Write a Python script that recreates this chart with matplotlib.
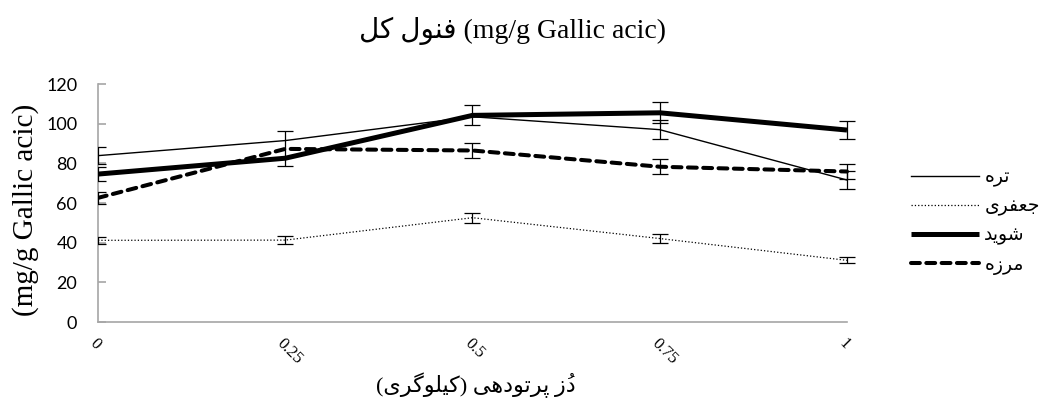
# Total phenol vs irradiation dose, four herbs, with error bars
import matplotlib
matplotlib.use('Agg')
import matplotlib.pyplot as plt


# data
dose = [0, 0.25, 0.5, 0.75, 1]
dose_labels = ['0', '0.25', '0.5', '0.75', '1']

names = ['تره', 'جعفری', 'شوید', 'مرزه']
tareh = [83.9, 91.5, 103.5, 97.0, 71.6]
tareh_err = [4.2, 0, 0, 4.7, 4.4]
jafari = [41.2, 41.3, 52.6, 42.1, 31.1]
jafari_err = [1.8, 2.0, 2.5, 2.1, 1.5]
shevid = [74.6, 82.6, 104.2, 105.5, 96.8]
shevid_err = [3.6, 0, 5.0, 5.2, 4.7]
marzeh = [62.6, 87.3, 86.5, 78.3, 75.9]
marzeh_err = [3.0, 8.8, 4.0, 3.8, 3.9]

title_fa = 'فنول کل'
title_en = ' (mg/g Gallic acic)'
ylabel = '(mg/g Gallic acic)'
xlabel_fa = 'دُز پرتودهی (کیلوگری)'
yticks = [0, 20, 40, 60, 80, 100, 120]


# matplotlib has no Arabic shaping, so pick presentation forms by hand
# (isolated, final, initial, medial)
FORMS = {
    '\u0641': (0xFED1, 0xFED2, 0xFED3, 0xFED4),
    '\u0646': (0xFEE5, 0xFEE6, 0xFEE7, 0xFEE8),
    '\u0648': (0xFEED, 0xFEEE),
    '\u0644': (0xFEDD, 0xFEDE, 0xFEDF, 0xFEE0),
    '\u06A9': (0xFB8E, 0xFB8F, 0xFB90, 0xFB91),
    '\u062A': (0xFE95, 0xFE96, 0xFE97, 0xFE98),
    '\u0631': (0xFEAD, 0xFEAE),
    '\u0647': (0xFEE9, 0xFEEA, 0xFEEB, 0xFEEC),
    '\u062C': (0xFE9D, 0xFE9E, 0xFE9F, 0xFEA0),
    '\u0639': (0xFEC9, 0xFECA, 0xFECB, 0xFECC),
    '\u06CC': (0xFBFC, 0xFBFD, 0xFBFE, 0xFBFF),
    '\u0634': (0xFEB5, 0xFEB6, 0xFEB7, 0xFEB8),
    '\u062F': (0xFEA9, 0xFEAA),
    '\u0645': (0xFEE1, 0xFEE2, 0xFEE3, 0xFEE4),
    '\u0632': (0xFEAF, 0xFEB0),
    '\u067E': (0xFB56, 0xFB57, 0xFB58, 0xFB59),
    '\u06AF': (0xFB92, 0xFB93, 0xFB94, 0xFB95),
}
MARKS = {'\u064F'}
MIRROR = {'(': ')', ')': '('}


def rtl(text):
    out = []
    for i, c in enumerate(text):
        if c not in FORMS:
            out.append(c)
            continue
        j = i - 1
        while j >= 0 and text[j] in MARKS:
            j -= 1
        k = i + 1
        while k < len(text) and text[k] in MARKS:
            k += 1
        join_prev = j >= 0 and text[j] in FORMS and len(FORMS[text[j]]) == 4
        join_next = k < len(text) and text[k] in FORMS and len(FORMS[c]) == 4
        out.append(chr(FORMS[c][int(join_prev) + 2 * int(join_next)]))
    # plain reversal puts a mark just before (left of) its base letter
    return ''.join(MIRROR.get(ch, ch) for ch in reversed(out))


serif = ['Liberation Serif', 'DejaVu Sans']

fig = plt.figure(figsize=(10.45, 4.11), dpi=100)
# x runs a bit past 1 so the last caps are not cut; the spine stops at 1
xmax = 1.015
ax = fig.add_axes([0.0938, 0.2165, 0.7167 * xmax, 0.579])

series = [
    (tareh, tareh_err, dict(color='black', lw=1.0)),
    (jafari, jafari_err, dict(color='black', lw=0.9, ls=':')),
    (shevid, shevid_err, dict(color='black', lw=3.6, solid_capstyle='butt')),
    (marzeh, marzeh_err, dict(color='black', lw=2.9, ls=(0, (2.2, 1.6)),
                              dash_capstyle='round')),
]

handles = []
for (vals, errs, style), name in zip(series, names):
    line, = ax.plot(dose, vals, label=rtl(name), zorder=2, **style)
    handles.append(line)
    xs = [d for d, e in zip(dose, errs) if e > 0]
    ys = [v for v, e in zip(vals, errs) if e > 0]
    es = [e for e in errs if e > 0]
    ax.errorbar(xs, ys, yerr=es, fmt='none', ecolor='black',
                elinewidth=0.9, capsize=5.5, capthick=0.9, zorder=3)

ax.set_xlim(0, xmax)
ax.set_ylim(0, 120)
ax.set_yticks(yticks)
ax.set_xticks(dose)
ax.set_xticklabels(dose_labels, rotation=-45, ha='left', va='top',
                   rotation_mode='anchor', fontsize=12, family=serif)
for lab in ax.get_yticklabels():
    lab.set_family('Lato')
    lab.set_fontsize(13)

for s in ['top', 'right']:
    ax.spines[s].set_visible(False)
for s in ['left', 'bottom']:
    ax.spines[s].set_color('#a6a6a6')
    ax.spines[s].set_linewidth(1.2)
ax.spines['bottom'].set_bounds(0, 1)
ax.tick_params(axis='y', direction='in', length=6, width=1.2,
               color='#a6a6a6', pad=15)
ax.tick_params(axis='x', length=0, pad=10)

fig.text(0.49, 0.925, rtl(title_fa) + title_en, ha='center', va='center',
         fontsize=20, family=serif)
fig.text(0.024, 0.49, ylabel, rotation=90, ha='center', va='center',
         fontsize=21, family=serif)
fig.text(0.455, 0.063, rtl(xlabel_fa), ha='center', va='center',
         fontsize=16, family=serif)

fig.legend(handles=handles, loc='center left',
           bbox_to_anchor=(0.872, 0.46), frameon=False,
           handlelength=3.6, handletextpad=0.3, labelspacing=0.6,
           borderpad=0, borderaxespad=0,
           prop={'family': serif, 'size': 13.5})

fig.savefig('out.png', dpi=100)
